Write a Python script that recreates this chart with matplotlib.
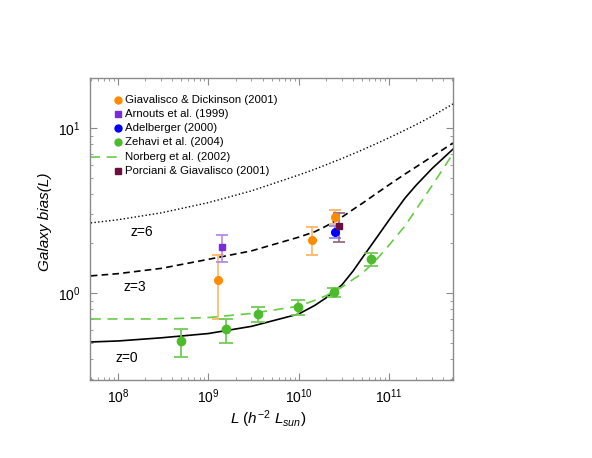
import matplotlib
matplotlib.use('Agg')
import matplotlib.pyplot as plt
from matplotlib.ticker import NullFormatter

plt.rcParams['font.family'] = ['Liberation Sans', 'DejaVu Sans']
plt.rcParams['mathtext.fontset'] = 'custom'
plt.rcParams['mathtext.rm'] = 'Liberation Sans'
plt.rcParams['mathtext.it'] = 'Liberation Sans:italic'

# model curves
L_grid = [5e7, 1e8, 3e8, 1e9, 3e9, 1e10, 1.5e10, 2e10, 3e10, 4e10, 5e10, 7e10,
          1e11, 1.5e11, 2e11, 3e11, 5.1e11]
bias_z6 = [2.66, 2.78, 3.06, 3.53, 4.16, 5.19, 5.62, 5.98, 6.53, 6.98, 7.35, 7.98,
           8.73, 9.71, 10.5, 11.8, 14.0]
bias_z3 = [1.27, 1.31, 1.41, 1.60, 1.80, 2.18, 2.35, 2.54, 2.88, 3.21, 3.48, 3.96,
           4.53, 5.26, 5.82, 6.72, 8.11]
bias_z0 = [0.505, 0.512, 0.535, 0.568, 0.628, 0.746, 0.840, 0.933, 1.118, 1.36, 1.62, 2.10,
           2.77, 3.76, 4.51, 5.69, 7.45]
bias_norberg = [0.696, 0.696, 0.696, 0.710, 0.752, 0.832, 0.903, 0.962, 1.085, 1.21, 1.31, 1.56,
                1.95, 2.55, 3.22, 4.49, 7.0]

# observations
giav_L = [1.28e9, 1.41e10, 2.53e10]
giav_b = [1.20, 2.10, 2.89]
giav_lo = [0.695, 1.70, 2.62]
giav_hi = [1.70, 2.51, 3.18]

arn_L = [1.42e9]
arn_b = [1.90]
arn_lo = [1.54]
arn_hi = [2.25]

adel_L = [2.53e10]
adel_b = [2.34]
adel_lo = [2.15]
adel_hi = [2.55]

zeh_L = [4.99e8, 1.57e9, 3.55e9, 9.85e9, 2.47e10, 6.34e10]
zeh_b = [0.512, 0.605, 0.746, 0.823, 1.01, 1.61]
zeh_lo = [0.41, 0.498, 0.667, 0.736, 0.945, 1.46]
zeh_hi = [0.605, 0.696, 0.823, 0.907, 1.07, 1.75]

porc_L = [2.80e10]
porc_b = [2.55]
porc_lo = [2.04]
porc_hi = [3.05]

legend_names = ['Giavalisco & Dickinson (2001)', 'Arnouts et al. (1999)', 'Adelberger (2000)',
                'Zehavi et al. (2004)', 'Norberg et al. (2002)', 'Porciani & Giavalisco (2001)']

c_orange = '#FF8C00'
c_purple = '#7B2BD9'
c_blue = '#0000FF'
c_green = '#4CBB2C'
c_maroon = '#6A0F40'

fig = plt.figure(figsize=(5.92, 4.58), dpi=100)
ax = fig.add_axes([90/592, 1-380/458, 363/592, 302/458])

ax.plot(L_grid, bias_z6, color='black', ls=':', lw=1.0)
ax.plot(L_grid, bias_z3, color='black', ls=(0, (4, 2.5)), lw=1.2)
ax.plot(L_grid, bias_z0, color='black', ls='-', lw=1.2)
ax.plot(L_grid, bias_norberg, color='#66CC44', ls=(0, (6, 4)), lw=1.2)

def errs(b, lo, hi):
    return [[b[i]-lo[i] for i in range(len(b))], [hi[i]-b[i] for i in range(len(b))]]

ax.errorbar(giav_L, giav_b, yerr=errs(giav_b, giav_lo, giav_hi), fmt='o', color=c_orange, ms=5.5,
            ecolor='#FFB566', elinewidth=1.2, capsize=4.5, capthick=1.3)
ax.errorbar(arn_L, arn_b, yerr=errs(arn_b, arn_lo, arn_hi), fmt='s', color=c_purple, ms=4,
            ecolor='#B58AE8', elinewidth=1.2, capsize=4.5, capthick=1.3)
ax.errorbar(adel_L, adel_b, yerr=errs(adel_b, adel_lo, adel_hi), fmt='o', color=c_blue, ms=5.5,
            ecolor='#8A8AFF', elinewidth=1.2, capsize=4.5, capthick=1.3)
ax.errorbar(porc_L, porc_b, yerr=errs(porc_b, porc_lo, porc_hi), fmt='s', color=c_maroon, ms=5,
            ecolor='#9A6A88', elinewidth=1.2, capsize=4.5, capthick=1.3)
ax.errorbar(zeh_L, zeh_b, yerr=errs(zeh_b, zeh_lo, zeh_hi), fmt='o', color=c_green, ms=6,
            ecolor='#72CC55', elinewidth=1.3, capsize=5, capthick=1.3)

ax.set_xscale('log')
ax.set_yscale('log')
ax.set_xlim(4.9e7, 5.1e11)
ax.set_ylim(0.297, 20.1)
ax.yaxis.set_minor_formatter(NullFormatter())
ax.xaxis.set_minor_formatter(NullFormatter())

for s in ax.spines.values():
    s.set_color('#8a8a8a')
    s.set_linewidth(1.0)
ax.tick_params(which='both', direction='in', top=True, right=True, color='#8a8a8a', labelsize=10)
ax.tick_params(which='major', length=5)
ax.tick_params(axis='x', which='major', pad=5)
ax.tick_params(axis='y', which='major', pad=7)
ax.tick_params(which='minor', length=2.5)

ax.set_xlabel(r'$L\ (h^{-2}\ L_{sun})$', fontsize=11)
ax.set_ylabel('Galaxy bias(L)', fontsize=11, fontstyle='italic')
ax.xaxis.set_label_coords(0.49, -0.095)
ax.yaxis.set_label_coords(-0.105, 0.523)

ax.text(1.85e8, 2.34, 'z=6', fontsize=10, ha='center', va='center')
ax.text(1.54e8, 1.09, 'z=3', fontsize=10, ha='center', va='center')
ax.text(1.26e8, 0.404, 'z=0', fontsize=10, ha='center', va='center')

# legend drawn by hand, IDL style
rows = [0.927, 0.881, 0.834, 0.788, 0.738, 0.692]
mx = 0.077
tx = 0.096
ax.plot([mx], [rows[0]], 'o', color=c_orange, ms=5, transform=ax.transAxes)
ax.plot([mx], [rows[1]], 's', color=c_purple, ms=3.8, transform=ax.transAxes)
ax.plot([mx], [rows[2]], 'o', color=c_blue, ms=5, transform=ax.transAxes)
ax.plot([mx], [rows[3]], 'o', color=c_green, ms=5, transform=ax.transAxes)
ax.plot([0.0, mx], [rows[4], rows[4]], color='#66CC44', ls=(0, (6, 4)), lw=1.2, transform=ax.transAxes)
ax.plot([mx], [rows[5]], 's', color=c_maroon, ms=4.2, transform=ax.transAxes)
for i in range(len(legend_names)):
    ax.text(tx, rows[i], legend_names[i], fontsize=8.2, va='center', ha='left', transform=ax.transAxes)

fig.savefig('out.png', dpi=100)
